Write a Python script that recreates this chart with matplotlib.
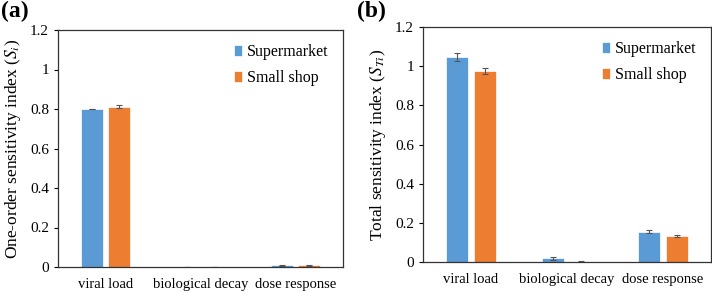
import numpy as np
import matplotlib
matplotlib.use('Agg')
import matplotlib.pyplot as plt

plt.rcParams['font.family'] = ['Liberation Serif', 'DejaVu Serif']
plt.rcParams['mathtext.fontset'] = 'stix'

categories = ['viral load', 'biological decay', 'dose response']
series = ['Supermarket', 'Small shop']
colors = ['#5B9BD5', '#ED7D31']

# (a) one-order index
si_super = [0.800, 0.0, 0.008]
si_super_err = [0.002, 0.0, 0.002]
si_shop = [0.812, 0.0, 0.009]
si_shop_err = [0.009, 0.0, 0.003]

# (b) total index
sti_super = [1.048, 0.018, 0.155]
sti_super_err = [0.020, 0.008, 0.007]
sti_shop = [0.975, 0.002, 0.135]
sti_shop_err = [0.015, 0.002, 0.005]

fig = plt.figure(figsize=(7.12, 2.92), dpi=100)
ax1 = fig.add_axes([58/712, 1-267/292, 285/712, 237/292])
ax2 = fig.add_axes([423/712, 1-262/292, 288/712, 235/292])

x = np.arange(len(categories))
w = 0.23
off = 0.145

def draw(ax, a, ae, b, be, ylabel):
    ax.bar(x - off, a, w, color=colors[0], label=series[0], edgecolor='white', linewidth=0.5,
           yerr=ae, error_kw=dict(ecolor='#555555', elinewidth=0.8, capsize=2.5, capthick=0.8))
    ax.bar(x + off, b, w, color=colors[1], label=series[1], edgecolor='white', linewidth=0.5,
           yerr=be, error_kw=dict(ecolor='#555555', elinewidth=0.8, capsize=2.5, capthick=0.8))
    ax.set_xlim(-0.5, 2.5)
    ax.set_ylim(0, 1.2)
    ax.set_yticks([0, 0.2, 0.4, 0.6, 0.8, 1.0, 1.2])
    ax.set_yticklabels(['0', '0.2', '0.4', '0.6', '0.8', '1', '1.2'])
    ax.set_xticks(x)
    ax.set_xticklabels(categories)
    ax.tick_params(axis='x', length=0, labelsize=10.5, pad=8)
    ax.tick_params(axis='y', length=3, direction='out', labelsize=11)
    for s in ax.spines.values():
        s.set_color('#333333')
        s.set_linewidth(0.9)
    ax.set_ylabel(ylabel, fontsize=12.5, labelpad=5)
    ax.legend(loc='upper right', frameon=False, fontsize=11.5, handlelength=0.55,
              handleheight=0.65, handletextpad=0.3, labelspacing=0.6,
              bbox_to_anchor=(1.0, 1.0))

draw(ax1, si_super, si_super_err, si_shop, si_shop_err,
     'One-order sensitivity index ($S_i$)')
draw(ax2, sti_super, sti_super_err, sti_shop, sti_shop_err,
     'Total sensitivity index ($S_{Ti}$)')

fig.text(1/712, 1-11/292, '(a)', fontsize=17, fontweight='bold', va='center')
fig.text(357/712, 1-11/292, '(b)', fontsize=17, fontweight='bold', va='center')

fig.savefig('out.png', dpi=100)
